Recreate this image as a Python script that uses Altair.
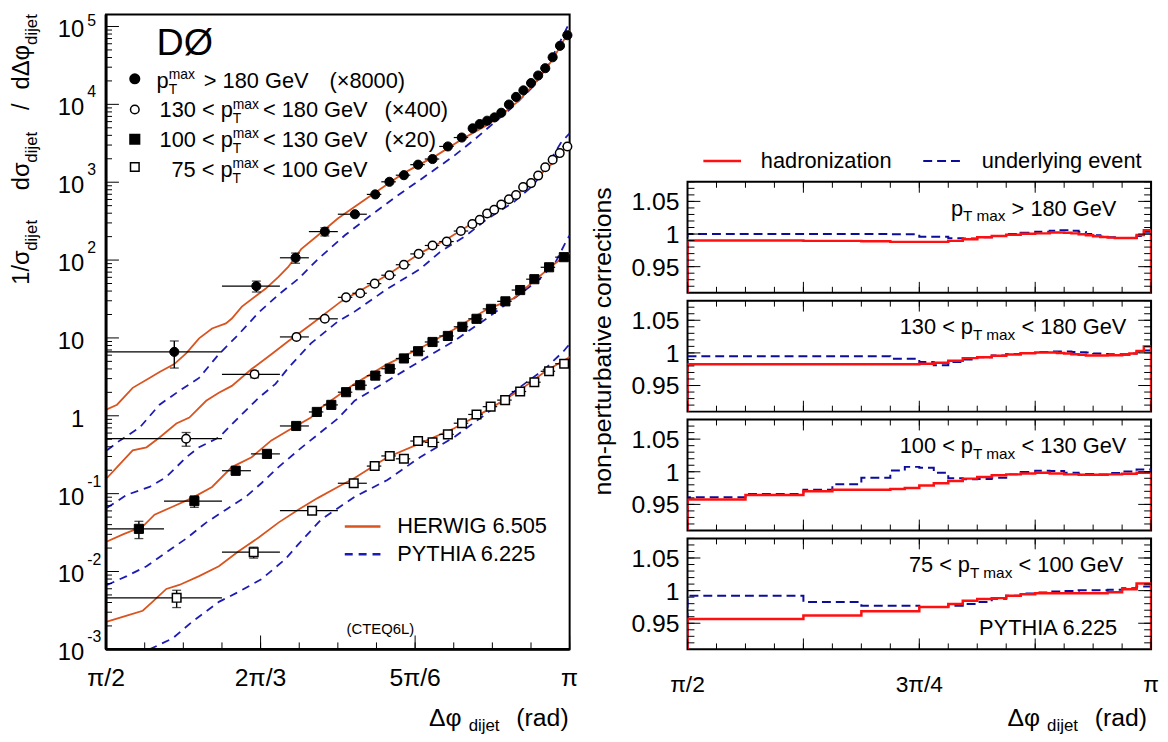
import math
import altair as alt
import pandas as pd

PI = math.pi
FONT = "Liberation Sans"
ORANGE = "#d9541e"
BLUE = "#1c1cb4"
RED = "#ff1010"
DBLUE = "#0c0c9a"

# ======================= left panel: measured points =======================
# values as plotted (already multiplied by the factor quoted in the legend)
DPHI_180 = [1.802, 2.080, 2.213, 2.312, 2.414, 2.483, 2.531, 2.580, 2.628, 2.677, 2.729, 2.776, 2.813,
            2.837, 2.862, 2.887, 2.910, 2.936, 2.960, 2.985, 3.011, 3.035, 3.059, 3.084, 3.109, 3.134]
SIG_180 = [6.62, 46.3, 107, 232, 388, 697, 1012, 1231, 1680, 1985, 2880, 3748, 4922,
           5583, 6166, 6793, 7796, 9943, 12460, 15110, 18770, 23460, 29130, 40220, 56480, 77270]
ERR_180 = [0.38, 0.16, 0.15, 0.12, 0.08, 0.06, 0.05, 0.05, 0.04, 0.04, 0.03, 0.03, 0.03,
           0.03, 0.03, 0.03, 0.03, 0.03, 0.03, 0.03, 0.03, 0.03, 0.03, 0.03, 0.03, 0.03]
EDGES_180 = [1/2, 5/8, 11/16, 23/32, 24/32, 25/32, 51/64, 52/64, 53/64, 54/64, 55/64, 56/64, 57/64,
             115/128, 116/128, 117/128, 118/128, 119/128, 120/128, 121/128, 122/128, 123/128,
             124/128, 125/128, 126/128, 127/128, 128/128]

DPHI_130 = [1.842, 2.074, 2.216, 2.312, 2.384, 2.432, 2.481, 2.531, 2.580, 2.630, 2.677, 2.725, 2.773,
            2.812, 2.837, 2.862, 2.886, 2.910, 2.936, 2.960, 2.984, 3.011, 3.035, 3.059, 3.084, 3.108, 3.134]
SIG_130 = [0.508, 3.41, 10.3, 17.6, 33.2, 37.5, 49.8, 63.9, 87.1, 120, 154, 173, 236,
           290, 330, 396, 442, 516, 603, 685, 867, 974, 1217, 1557, 1945, 2366, 2880]
ERR_130 = [0.20, 0.10, 0.06, 0.05, 0.04, 0.04, 0.03, 0.03, 0.03, 0.03, 0.03, 0.03, 0.03,
           0.03, 0.03, 0.03, 0.03, 0.03, 0.03, 0.03, 0.03, 0.03, 0.03, 0.03, 0.03, 0.03, 0.03]
EDGES_130 = [1/2, 5/8, 11/16, 23/32, 24/32, 49/64, 50/64, 51/64, 52/64, 53/64, 54/64, 55/64, 56/64, 57/64,
             115/128, 116/128, 117/128, 118/128, 119/128, 120/128, 121/128, 122/128, 123/128,
             124/128, 125/128, 126/128, 127/128, 128/128]

DPHI_100 = [1.682, 1.870, 2.010, 2.116, 2.215, 2.285, 2.334, 2.384, 2.432, 2.483, 2.532, 2.580,
            2.628, 2.677, 2.729, 2.778, 2.826, 2.875, 2.924, 2.974, 3.022, 3.072, 3.122]
SIG_100 = [0.0353, 0.0803, 0.197, 0.324, 0.740, 1.12, 1.38, 2.01, 2.47, 3.28, 4.02, 5.45,
           6.75, 8.87, 10.6, 13.9, 17.6, 23.6, 29.5, 41.2, 56.8, 80.8, 109]
ERR_100 = [0.25, 0.17, 0.12, 0.08, 0.05, 0.04, 0.04, 0.03, 0.03, 0.03, 0.03, 0.03,
           0.03, 0.03, 0.03, 0.03, 0.03, 0.03, 0.03, 0.03, 0.03, 0.03, 0.03]
EDGES_100 = [8/16, 9/16, 10/16, 21/32, 22/32, 23/32, 47/64, 48/64, 49/64, 50/64, 51/64, 52/64, 53/64,
             54/64, 55/64, 56/64, 57/64, 58/64, 59/64, 60/64, 61/64, 62/64, 63/64, 64/64]

DPHI_75 = [1.810, 2.071, 2.269, 2.410, 2.481, 2.532, 2.580, 2.628, 2.677, 2.729, 2.777, 2.826,
           2.874, 2.923, 2.974, 3.022, 3.072, 3.123]
SIG_75 = [0.00459, 0.0177, 0.0604, 0.136, 0.226, 0.305, 0.280, 0.474, 0.456, 0.577, 0.803, 1.04,
          1.31, 1.59, 2.05, 2.70, 3.73, 4.66]
ERR_75 = [0.25, 0.16, 0.08, 0.06, 0.04, 0.04, 0.03, 0.03, 0.03, 0.03, 0.03, 0.03,
          0.03, 0.03, 0.03, 0.03, 0.03, 0.03]
EDGES_75 = [1/2, 5/8, 11/16, 3/4, 25/32, 51/64, 52/64, 53/64, 54/64, 55/64, 56/64, 57/64, 58/64,
            59/64, 60/64, 61/64, 62/64, 63/64, 64/64]

# ======================= left panel: generator curves (log10 of value) =======================
HERWIG_180_X = [1.571, 1.608, 1.661, 1.718, 1.752, 1.802, 1.843, 1.886, 1.930, 1.977, 1.997, 2.031, 2.111,
                2.155, 2.188, 2.232, 2.289, 2.356, 2.467, 2.581, 2.692, 2.782, 2.860, 2.903, 2.970, 3.037,
                3.085, 3.118, 3.142]
HERWIG_180_LG = [0.079, 0.142, 0.359, 0.486, 0.562, 0.664, 0.804, 0.995, 1.122, 1.186, 1.249, 1.402, 1.631,
                 1.784, 1.911, 2.140, 2.318, 2.534, 2.827, 3.120, 3.348, 3.565, 3.730, 3.845, 4.048, 4.328,
                 4.583, 4.799, 4.952]
PYTHIA_180_X = [1.574, 1.618, 1.685, 1.752, 1.819, 1.886, 1.953, 2.020, 2.088, 2.155, 2.222, 2.289, 2.380,
                2.467, 2.558, 2.635, 2.749, 2.816, 2.883, 2.950, 3.017, 3.071, 3.105, 3.135, 3.142]
PYTHIA_180_LG = [-0.443, -0.316, -0.150, 0.142, 0.320, 0.486, 0.791, 1.046, 1.326, 1.555, 1.758, 2.013, 2.318,
                 2.572, 2.827, 3.030, 3.336, 3.539, 3.756, 3.972, 4.226, 4.519, 4.774, 5.003, 5.030]

HERWIG_130_X = [1.574, 1.608, 1.661, 1.708, 1.752, 1.809, 1.853, 1.910, 1.953, 1.997, 2.064, 2.131, 2.188,
                2.265, 2.366, 2.413, 2.467, 2.524, 2.635, 2.725, 2.816, 2.903, 2.970, 3.037, 3.085, 3.135, 3.142]
HERWIG_130_LG = [-0.799, -0.659, -0.443, -0.405, -0.278, -0.099, -0.023, 0.193, 0.295, 0.384, 0.600, 0.791, 0.957,
                 1.173, 1.466, 1.567, 1.682, 1.809, 2.089, 2.267, 2.483, 2.674, 2.865, 3.081, 3.247, 3.476, 3.500]
PYTHIA_130_X = [1.574, 1.641, 1.718, 1.775, 1.843, 1.886, 1.953, 2.020, 2.088, 2.145, 2.188, 2.265, 2.356,
                2.413, 2.524, 2.635, 2.702, 2.792, 2.860, 2.950, 3.017, 3.071, 3.111, 3.135, 3.142]
PYTHIA_130_LG = [-1.181, -1.016, -0.914, -0.786, -0.532, -0.405, -0.278, -0.023, 0.231, 0.410, 0.613, 0.931, 1.211,
                 1.338, 1.631, 1.885, 2.102, 2.318, 2.522, 2.738, 2.954, 3.247, 3.501, 3.603, 3.630]

HERWIG_100_X = [1.574, 1.628, 1.695, 1.735, 1.796, 1.863, 1.930, 1.997, 2.064, 2.131, 2.188, 2.265, 2.299,
                2.356, 2.413, 2.524, 2.635, 2.749, 2.860, 2.950, 3.017, 3.085, 3.135, 3.142]
HERWIG_100_LG = [-1.614, -1.524, -1.423, -1.270, -1.168, -1.054, -0.914, -0.659, -0.532, -0.316, -0.189, -0.023, 0.104,
                 0.257, 0.410, 0.664, 0.868, 1.109, 1.364, 1.504, 1.720, 1.936, 2.076, 2.090]
PYTHIA_100_X = [1.574, 1.641, 1.708, 1.775, 1.843, 1.910, 1.977, 2.044, 2.098, 2.155, 2.222, 2.289, 2.356,
                2.413, 2.524, 2.635, 2.749, 2.860, 2.970, 3.037, 3.094, 3.135, 3.142]
PYTHIA_100_LG = [-2.173, -2.059, -1.932, -1.753, -1.575, -1.372, -1.206, -1.041, -0.863, -0.659, -0.443, -0.239, -0.036,
                 0.193, 0.448, 0.702, 0.957, 1.249, 1.555, 1.745, 1.974, 2.280, 2.320]

HERWIG_75_X = [1.574, 1.641, 1.695, 1.728, 1.775, 1.819, 1.886, 1.953, 2.020, 2.088, 2.155, 2.222, 2.289,
               2.356, 2.413, 2.524, 2.635, 2.749, 2.860, 2.970, 3.061, 3.135, 3.142]
HERWIG_75_LG = [-2.644, -2.568, -2.504, -2.390, -2.224, -2.173, -2.059, -1.932, -1.741, -1.563, -1.372, -1.206, -1.054,
                -0.914, -0.799, -0.532, -0.354, -0.163, 0.066, 0.320, 0.575, 0.740, 0.760]
PYTHIA_75_X = [1.718, 1.796, 1.863, 1.953, 2.020, 2.098, 2.178, 2.222, 2.299, 2.413, 2.524, 2.635, 2.749,
               2.860, 2.970, 3.061, 3.121, 3.135, 3.142]
PYTHIA_75_LG = [-3.000, -2.860, -2.644, -2.390, -2.262, -2.097, -1.842, -1.652, -1.334, -1.041, -0.825, -0.532, -0.278,
                0.028, 0.359, 0.613, 0.829, 0.893, 0.920]

# ======================= right panels: non-perturbative corrections per bin =======================
HAD_180 = [0.990, 0.9895, 0.989, 0.988, 0.988, 0.9895, 0.992, 0.995, 0.997, 0.999, 1.0005, 1.001, 1.0025,
           1.0025, 1.002, 1.001, 0.9995, 0.998, 0.9965, 0.9955, 0.9945, 0.994, 0.994, 0.994, 0.9985, 1.006]
UE_180 = [1.000, 1.000, 1.000, 0.9995, 0.996, 0.9935, 0.993, 0.995, 0.997, 1.000, 1.002, 1.0035, 1.005,
          1.006, 1.006, 1.005, 1.003, 1.000, 0.998, 0.996, 0.995, 0.994, 0.994, 0.994, 0.997, 1.0035]
HAD_130 = [0.9825, 0.9825, 0.9825, 0.9825, 0.9835, 0.985, 0.988, 0.992, 0.9935, 0.9955, 0.9975, 0.9995, 1.0005,
           1.0005, 1.000, 0.999, 0.998, 0.997, 0.996, 0.996, 0.996, 0.9965, 0.9965, 0.997, 0.999, 1.003, 1.010]
UE_130 = [0.995, 0.995, 0.995, 0.991, 0.986, 0.981, 0.986, 0.990, 0.9935, 0.996, 0.9985, 1.000, 1.0015,
          1.002, 1.002, 1.002, 1.0015, 1.001, 1.0005, 0.999, 0.9985, 0.998, 0.998, 0.998, 0.999, 1.002, 1.0035]
HAD_100 = [0.9575, 0.9645, 0.970, 0.9725, 0.9725, 0.9735, 0.975, 0.979, 0.9825, 0.986, 0.9895, 0.992,
           0.9945, 0.996, 0.9975, 0.9985, 0.9975, 0.996, 0.9955, 0.9955, 0.996, 0.997, 0.9985]
UE_100 = [0.961, 0.966, 0.9725, 0.981, 0.991, 1.002, 1.0075, 1.006, 0.9985, 0.990, 0.9885, 0.989,
          0.991, 0.996, 0.9995, 1.0015, 1.001, 0.9985, 0.9965, 0.996, 0.998, 1.0005, 1.0035]
HAD_75 = [0.9565, 0.962, 0.9685, 0.975, 0.9795, 0.9845, 0.987, 0.9885, 0.992, 0.9945, 0.996, 0.996,
          0.996, 0.996, 0.996, 0.9975, 1.002, 1.011]
UE_75 = [0.992, 0.9825, 0.977, 0.975, 0.977, 0.9795, 0.9825, 0.9875, 0.992, 0.9955, 0.997, 0.9985,
         0.9995, 1.0005, 1.0005, 1.0015, 1.0035, 1.0065]

# ======================= geometry / scales =======================
LW, LH = 468, 641
RW, RH = 468, 112
LY_TOP = 10 ** 5.155
RY0, RY1 = 0.91, 1.08
XS = alt.Scale(domain=[PI / 2, PI], nice=False, zero=False)
YS = alt.Scale(type="log", domain=[1e-3, LY_TOP], nice=False)
RYS = alt.Scale(domain=[RY0, RY1], nice=False, zero=False)

# ---------- text helpers (pixel placed annotations) ----------
CW = {' ': .278, '(': .333, ')': .333, '/': .278, '<': .584, '>': .584, '.': .278, '×': .584, '-': .333,
      'A': .667, 'C': .722, 'D': .722, 'E': .667, 'G': .778, 'H': .722, 'I': .278, 'L': .556, 'P': .667,
      'Q': .778, 'R': .722, 'T': .611, 'V': .667, 'W': .944, 'Y': .667, 'a': .556, 'b': .556, 'c': .5,
      'd': .556, 'e': .556, 'g': .556, 'h': .556, 'i': .222, 'j': .222, 'l': .222, 'm': .833, 'n': .556,
      'o': .556, 'p': .556, 'r': .333, 's': .5, 't': .278, 'u': .556, 'v': .5, 'x': .5, 'y': .5, 'z': .5,
      'σ': .6, 'Δ': .668, 'φ': .65, 'π': .6, 'Ø': .778}


def tw(s, fs):
    return fs * sum(CW.get(c, .556 if c.isdigit() else .55) for c in s)


def _width(items):
    w = 0
    for it in items:
        if isinstance(it, (int, float)):
            w += it
        elif it[3]:
            w += tw(it[0], it[1])
    return w


def compose(items, x, y, align="left", col="black"):
    total = _width(items)
    cx = x - total if align == "right" else (x - total / 2 if align == "center" else x)
    rows = []
    for it in items:
        if isinstance(it, (int, float)):
            cx += it
            continue
        t, fs, d, adv = it
        rows.append((t, cx, y + d, fs, 0, col))
        if adv:
            cx += tw(t, fs)
    return rows


def compose_up(items, x, y, col="black"):
    cy = y
    rows = []
    for it in items:
        if isinstance(it, (int, float)):
            cy -= it
            continue
        t, fs, d, adv = it
        rows.append((t, x + d, cy, fs, 270, col))
        if adv:
            cy -= tw(t, fs)
    return rows


def text_layer(rows):
    df = pd.DataFrame(rows, columns=["t", "px", "py", "fs", "ang", "col"])
    return alt.Chart(df).mark_text(align="left", baseline="middle", font=FONT).encode(
        x=alt.X("px:Q", scale=None, axis=None),
        y=alt.Y("py:Q", scale=None, axis=None),
        text="t:N",
        size=alt.Size("fs:Q", scale=None),
        angle=alt.Angle("ang:Q", scale=None),
        color=alt.Color("col:N", scale=None),
    )


# ======================= left panel =======================
def points_df(dphi, val, err, edges, name):
    rows = []
    for i, (x, v, e) in enumerate(zip(dphi, val, err)):
        rows.append(dict(s=name, x=x, v=v, xlo=edges[i] * PI, xhi=edges[i + 1] * PI,
                         ylo=v * (1 - e), yhi=v * (1 + e), big=e >= 0.1))
    return pd.DataFrame(rows)


def curve_df(xs, lg, name):
    return pd.DataFrame({"x": xs, "y": [10 ** v for v in lg], "s": name})


P180 = points_df(DPHI_180, SIG_180, ERR_180, EDGES_180, "180")
P130 = points_df(DPHI_130, SIG_130, ERR_130, EDGES_130, "130")
P100 = points_df(DPHI_100, SIG_100, ERR_100, EDGES_100, "100")
P75 = points_df(DPHI_75, SIG_75, ERR_75, EDGES_75, "75")
PALL = pd.concat([P180, P130, P100, P75], ignore_index=True)
PBIG = PALL[PALL["big"]]

HERW = pd.concat([curve_df(HERWIG_180_X, HERWIG_180_LG, "a"), curve_df(HERWIG_130_X, HERWIG_130_LG, "b"),
                  curve_df(HERWIG_100_X, HERWIG_100_LG, "c"), curve_df(HERWIG_75_X, HERWIG_75_LG, "d")])
PYTH = pd.concat([curve_df(PYTHIA_180_X, PYTHIA_180_LG, "a"), curve_df(PYTHIA_130_X, PYTHIA_130_LG, "b"),
                  curve_df(PYTHIA_100_X, PYTHIA_100_LG, "c"), curve_df(PYTHIA_75_X, PYTHIA_75_LG, "d")])

X_ = lambda f: alt.X(f, scale=XS, axis=None)
Y_ = lambda f: alt.Y(f, scale=YS, axis=None)

herwig = alt.Chart(HERW).mark_line(color=ORANGE, strokeWidth=1.8, clip=True).encode(
    x=X_("x:Q"), y=Y_("y:Q"), detail="s:N")
pythia = alt.Chart(PYTH).mark_line(color=BLUE, strokeWidth=1.8, strokeDash=[8, 6], clip=True).encode(
    x=X_("x:Q"), y=Y_("y:Q"), detail="s:N")
hbars = alt.Chart(PALL).mark_rule(color="black", strokeWidth=1.2).encode(
    x=X_("xlo:Q"), x2="xhi:Q", y=Y_("v:Q"))
vbars = alt.Chart(PALL).mark_rule(color="black", strokeWidth=1.4).encode(
    x=X_("x:Q"), y=Y_("ylo:Q"), y2="yhi:Q")
caps_lo = alt.Chart(PBIG).mark_tick(orient="horizontal", size=9, thickness=1.3, color="black").encode(
    x=X_("x:Q"), y=Y_("ylo:Q"))
caps_hi = alt.Chart(PBIG).mark_tick(orient="horizontal", size=9, thickness=1.3, color="black").encode(
    x=X_("x:Q"), y=Y_("yhi:Q"))


def markers(df, shape, filled, size):
    if filled:
        mk = alt.Chart(df).mark_point(shape=shape, filled=True, fill="black", stroke="black",
                                      strokeWidth=1, size=size, opacity=1)
    else:
        mk = alt.Chart(df).mark_point(shape=shape, filled=True, fill="white", stroke="black",
                                      strokeWidth=1.5, size=size, opacity=1)
    return mk.encode(x=X_("x:Q"), y=Y_("v:Q"))


m180 = markers(P180, "circle", True, 85)
m130 = markers(P130, "circle", False, 75)
m100 = markers(P100, "square", True, 85)
m75 = markers(P75, "square", False, 75)

# axis ticks (drawn inward like the original)
YMAJ = pd.DataFrame({"v": [10.0 ** e for e in range(-3, 6)]})
YMIN = pd.DataFrame({"v": [m * 10.0 ** e for e in range(-3, 6) for m in range(2, 10) if m * 10.0 ** e < LY_TOP]})
XMAJ_L = pd.DataFrame({"v": [PI / 2, 2 * PI / 3, 5 * PI / 6, PI]})
XMIN_L = pd.DataFrame({"v": [PI / 2 + k * PI / 24 for k in range(13)]})

lt = [
    alt.Chart(YMAJ).mark_rule(color="black", strokeWidth=1).encode(y=Y_("v:Q"), x=alt.value(0), x2=alt.value(13)),
    alt.Chart(YMIN).mark_rule(color="black", strokeWidth=1).encode(y=Y_("v:Q"), x=alt.value(0), x2=alt.value(6)),
    alt.Chart(XMAJ_L).mark_rule(color="black", strokeWidth=1).encode(x=X_("v:Q"), y=alt.value(LH), y2=alt.value(LH - 14)),
    alt.Chart(XMIN_L).mark_rule(color="black", strokeWidth=1).encode(x=X_("v:Q"), y=alt.value(LH), y2=alt.value(LH - 7)),
]
DUM = pd.DataFrame({"a": [0]})
edge_l = alt.Chart(DUM).mark_rule(color="black", strokeWidth=3).encode(x=alt.value(0), y=alt.value(0), y2=alt.value(LH))
edge_b = alt.Chart(DUM).mark_rule(color="black", strokeWidth=3).encode(x=alt.value(0), x2=alt.value(LW), y=alt.value(LH))
anchor = alt.Chart(DUM).mark_rule(opacity=0, color="white").encode(x=alt.value(-98), x2=alt.value(-97), y=alt.value(-2))

# y tick labels
YLAB = pd.DataFrame({"v": [1e-3, 1e-2, 1e-1, 1, 10, 1e2, 1e3, 1e4, 1e5],
                     "t": ["10", "10", "10", "1", "10", "10", "10", "10", "10"]})
YSUP = pd.DataFrame({"v": [1e-3, 1e-2, 1e-1, 1e2, 1e3, 1e4], "t": ["-3", "-2", "-1", "2", "3", "4"]})
YSUP5 = pd.DataFrame({"v": [1e5], "t": ["5"]})
ylab = alt.Chart(YLAB).mark_text(align="right", baseline="middle", fontSize=24, font=FONT, dy=4).encode(
    y=Y_("v:Q"), x=alt.value(-22), text="t:N")
ysup = alt.Chart(YSUP).mark_text(align="left", baseline="middle", fontSize=16, font=FONT, dy=-12).encode(
    y=Y_("v:Q"), x=alt.value(-19), text="t:N")
ysup5 = alt.Chart(YSUP5).mark_text(align="left", baseline="middle", fontSize=16, font=FONT, dy=-6).encode(
    y=Y_("v:Q"), x=alt.value(-19), text="t:N")
XLAB_L = pd.DataFrame({"v": [PI / 2, 2 * PI / 3, 5 * PI / 6, PI], "t": ["π/2", "2π/3", "5π/6", "π"]})
xlab_l = alt.Chart(XLAB_L).mark_text(align="center", baseline="middle", fontSize=25, font=FONT).encode(
    x=X_("v:Q"), y=alt.value(LH + 29), text="t:N")

# pixel-placed texts (plot origin of left panel = page (106, 10))
OX, OY = 106, 10
rows = []
rows += compose_up([("1/σ", 24, 0, True), ("dijet", 17, 10, True), 30, ("dσ", 24, 0, True),
                    ("dijet", 17, 10, True), 22, ("/", 24, 0, True), 14, ("dΔφ", 24, 0, True),
                    ("dijet", 17, 10, True)], 21 - OX, 283 - OY)
rows += compose([("Δφ", 25, 0, True), 7, ("dijet", 17, 8, True), 17, ("(rad)", 25, 0, True)],
                573 - OX, 720 - OY, align="right")
rows += [("DØ", 157 - OX, 40 - OY, 38, 0, "black")]
stack = [("T", 14, 9, False), ("max", 14, -6, True)]
rows += compose([("p", 22, 0, True)] + stack + [9, ("> 180 GeV", 22, 0, True), 21, ("(×8000)", 22, 0, True)],
                157 - OX, 77 - OY)
rows += compose([("130 <", 22, 0, True), 6, ("p", 22, 0, True)] + stack +
                [4, ("< 180 GeV", 22, 0, True), 17, ("(×400)", 22, 0, True)], 160 - OX, 107 - OY)
rows += compose([("100 <", 22, 0, True), 6, ("p", 22, 0, True)] + stack +
                [4, ("< 130 GeV", 22, 0, True), 17, ("(×20)", 22, 0, True)], 160 - OX, 137 - OY)
rows += compose([("75 <", 22, 0, True), 6, ("p", 22, 0, True)] + stack +
                [4, ("< 100 GeV", 22, 0, True)], 172 - OX, 167 - OY)
rows += [("HERWIG 6.505", 400 - OX, 527 - OY, 22, 0, "black"),
         ("PYTHIA 6.225", 400 - OX, 555 - OY, 22, 0, "black")]
rows += compose([("(CTEQ6L)", 15, 0, True)], 383 - OX, 630 - OY, align="center")
ltext = text_layer(rows)

LEGM = pd.DataFrame({"px": [135 - OX, 135 - OX, 135 - OX, 135 - OX], "py": [75 - OY, 106 - OY, 136 - OY, 164 - OY],
                     "k": ["a", "b", "c", "d"]})


def leg_marker(k, shape, filled, size):
    d = LEGM[LEGM["k"] == k]
    if filled:
        mk = alt.Chart(d).mark_point(shape=shape, filled=True, fill="black", stroke="black", size=size, opacity=1)
    else:
        mk = alt.Chart(d).mark_point(shape=shape, filled=True, fill="white", stroke="black",
                                     strokeWidth=1.5, size=size, opacity=1)
    return mk.encode(x=alt.X("px:Q", scale=None, axis=None), y=alt.Y("py:Q", scale=None, axis=None))


legm = [leg_marker("a", "circle", True, 85), leg_marker("b", "circle", False, 75),
        leg_marker("c", "square", True, 85), leg_marker("d", "square", False, 75)]
leg_h = alt.Chart(DUM).mark_rule(color=ORANGE, strokeWidth=2.5).encode(
    x=alt.value(347 - OX), x2=alt.value(383 - OX), y=alt.value(527 - OY))
leg_p = alt.Chart(DUM).mark_rule(color=BLUE, strokeWidth=2.5, strokeDash=[8, 6]).encode(
    x=alt.value(347 - OX), x2=alt.value(385 - OX), y=alt.value(555 - OY))

left = alt.layer(pythia, herwig, hbars, vbars, caps_lo, caps_hi, m180, m130, m100, m75,
                 *lt, edge_l, edge_b, ylab, ysup, ysup5, xlab_l, ltext, *legm, leg_h, leg_p, anchor
                 ).properties(width=LW, height=LH, view=alt.ViewBackground(stroke="black", strokeWidth=2))

# ======================= right panels =======================
RXS = XS


def step_df(edges, vals):
    xs = [edges[0] * PI]
    ys = [RY0]
    for i, v in enumerate(vals):
        xs += [edges[i] * PI, edges[i + 1] * PI]
        ys += [v, v]
    xs.append(edges[-1] * PI)
    ys.append(RY0)
    return pd.DataFrame({"x": xs, "y": ys, "i": list(range(len(xs)))})


RXMAJ = pd.DataFrame({"v": [PI / 2 + k * PI / 8 for k in range(5)]})
RXMIN = pd.DataFrame({"v": [PI / 2 + k * PI / 32 for k in range(17)]})
RYMAJ = pd.DataFrame({"v": [0.95, 1.0, 1.05]})
RYMIN = pd.DataFrame({"v": [0.92 + 0.01 * k for k in range(17)]})
RYLAB = pd.DataFrame({"v": [0.95, 1.0, 1.05], "t": ["0.95", "1", "1.05"]})

RX_ = lambda f: alt.X(f, scale=RXS, axis=None)
RY_ = lambda f: alt.Y(f, scale=RYS, axis=None)


def panel(edges, had, ue, label_rows, extra_rows=None, bottom=False):
    ue_l = alt.Chart(step_df(edges, ue)).mark_line(color=DBLUE, strokeWidth=2, strokeDash=[9, 5], clip=True).encode(
        x=RX_("x:Q"), y=RY_("y:Q"), order="i:Q")
    had_l = alt.Chart(step_df(edges, had)).mark_line(color=RED, strokeWidth=2.5, clip=True).encode(
        x=RX_("x:Q"), y=RY_("y:Q"), order="i:Q")
    ticks = [
        alt.Chart(RXMAJ).mark_rule(color="black").encode(x=RX_("v:Q"), y=alt.value(RH), y2=alt.value(RH - 11)),
        alt.Chart(RXMIN).mark_rule(color="black").encode(x=RX_("v:Q"), y=alt.value(RH), y2=alt.value(RH - 6)),
        alt.Chart(RXMAJ).mark_rule(color="black").encode(x=RX_("v:Q"), y=alt.value(0), y2=alt.value(11)),
        alt.Chart(RXMIN).mark_rule(color="black").encode(x=RX_("v:Q"), y=alt.value(0), y2=alt.value(6)),
        alt.Chart(RYMAJ).mark_rule(color="black").encode(y=RY_("v:Q"), x=alt.value(0), x2=alt.value(13)),
        alt.Chart(RYMIN).mark_rule(color="black").encode(y=RY_("v:Q"), x=alt.value(0), x2=alt.value(7)),
        alt.Chart(RYMAJ).mark_rule(color="black").encode(y=RY_("v:Q"), x=alt.value(RW), x2=alt.value(RW - 13)),
        alt.Chart(RYMIN).mark_rule(color="black").encode(y=RY_("v:Q"), x=alt.value(RW), x2=alt.value(RW - 7)),
    ]
    ylab_r = alt.Chart(RYLAB).mark_text(align="right", baseline="middle", fontSize=25, font=FONT, dy=1).encode(
        y=RY_("v:Q"), x=alt.value(-8), text="t:N")
    layers = [ue_l, had_l] + ticks + [ylab_r, text_layer(label_rows + (extra_rows or []))]
    if bottom:
        XL = pd.DataFrame({"v": [PI / 2, 3 * PI / 4, PI], "t": ["π/2", "3π/4", "π"]})
        layers.append(alt.Chart(XL).mark_text(align="center", baseline="middle", fontSize=23, font=FONT).encode(
            x=RX_("v:Q"), y=alt.value(RH + 36), text="t:N"))
    return alt.layer(*layers).properties(width=RW, height=RH,
                                          view=alt.ViewBackground(stroke="black", strokeWidth=2))


R0X = 693
sub = ("T max", 15.5, 8, True)
lab1 = compose([("p", 22, 0, True), sub, 6, ("> 180 GeV", 22, 0, True)], 1126 - R0X, 27, align="right")
lab2 = compose([("130 <", 22, 0, True), 6, ("p", 22, 0, True), sub, 6, ("< 180 GeV", 22, 0, True)],
               1136 - R0X, 27, align="right")
lab3 = compose([("100 <", 22, 0, True), 6, ("p", 22, 0, True), sub, 6, ("< 130 GeV", 22, 0, True)],
               1136 - R0X, 27, align="right")
lab4 = compose([("75 <", 22, 0, True), 6, ("p", 22, 0, True), sub, 6, ("< 100 GeV", 22, 0, True)],
               1133 - R0X, 27, align="right")
pyth_lab = compose([("PYTHIA 6.225", 22, 0, True)], 1128 - R0X, 90, align="right")
ytitle_r = compose_up([("non-perturbative corrections", 25, 0, True)], 608 - R0X,
                      41 + tw("non-perturbative corrections", 25) / 2)
xtitle_r = compose([("Δφ", 25, 0, True), 7, ("dijet", 17, 8, True), 17, ("(rad)", 25, 0, True)],
                   1157 - R0X, 720 - 539, align="right")

p1 = panel(EDGES_180, HAD_180, UE_180, lab1)
p2 = panel(EDGES_130, HAD_130, UE_130, lab2, ytitle_r)
p3 = panel(EDGES_100, HAD_100, UE_100, lab3)
p4 = panel(EDGES_75, HAD_75, UE_75, lab4, pyth_lab + xtitle_r, bottom=True)

LEG_H = 161
leg_rows = [("hadronization", 767 - R0X, 158 - 10, 22, 0, "black"),
            ("underlying event", 990 - R0X, 158 - 10, 22, 0, "black")]
legend = alt.layer(
    alt.Chart(DUM).mark_rule(color=RED, strokeWidth=2.5).encode(
        x=alt.value(709 - R0X), x2=alt.value(747 - R0X), y=alt.value(148)),
    alt.Chart(DUM).mark_rule(color=DBLUE, strokeWidth=2, strokeDash=[9, 5]).encode(
        x=alt.value(931 - R0X), x2=alt.value(971 - R0X), y=alt.value(148)),
    text_layer(leg_rows),
).properties(width=RW, height=LEG_H, view=alt.ViewBackground(stroke="transparent"))

right = alt.vconcat(legend, p1, p2, p3, p4, spacing=8, bounds="flush")

chart = alt.hconcat(left, right, spacing=119, bounds="flush").properties(padding=0).configure(font=FONT)

chart.save("out.html", embed_options={"renderer": "svg", "actions": False})
